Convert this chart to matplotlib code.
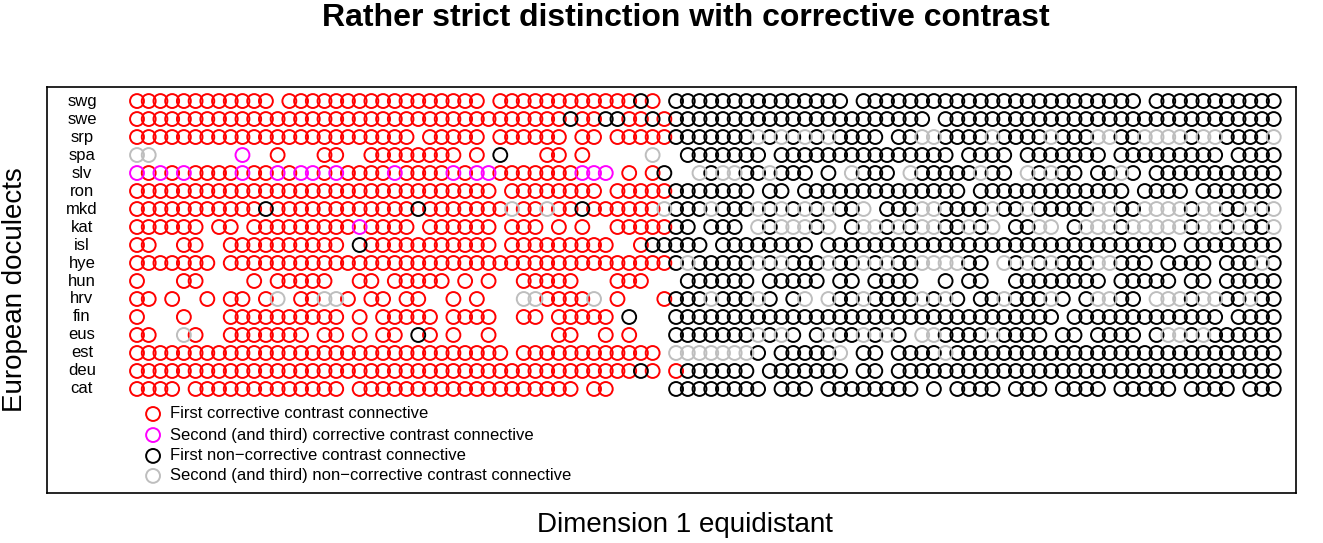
import matplotlib
matplotlib.use("Agg")
import matplotlib.pyplot as plt

plt.rcParams["font.family"] = "Liberation Sans"

doculects = ["swg", "swe", "srp", "spa", "slv", "ron", "mkd", "kat", "isl",
             "hye", "hun", "hrv", "fin", "eus", "est", "deu", "cat"]
# r: first corrective, m: second corrective, k: first non-corrective, g: second non-corrective, .: none
rows = [
    "rrrrrrrrrrrr.rrrr" "rrrrrrrrrrrrr.rr" "rrrrrrrrrrkr.kkkk" "kkkkkkkkkkk.kkkkk" "kkkkkkkkkkkkkkkk" "kkk.kkkkkkkkkkk",
    "rrrrrrrrrrrrrrrrr" "rrrrrrrrrrrrrrrr" "rrrrkrrkkrrkrkkkk" "kkkkkkkkkkkkkkkkk" "k.kkkkkkkkkkkkkk" "kkkkkkkkkkkkkkk",
    "rrrrrrrrrrrrrrrrr" "rrrrrrr.rrrrr.rr" "rrrr.rr.rrrrrkkkk" "kkkgkgkgkgkkkk.kk" "ggkkkkgkkkkgkkkg" "gkkggggkggkkkkg",
    "gg.......m..r...r" "r..rrrrrrrr.r.k." "..rr.r.....g..kkk" "kkkk.kkkkkkkkkkkk" "kkk.kkkk.kkkkkkk" ".kkkkkkkkk.kkkk",
    "mrmrmrrrrmrrmrmmr" "mrrrrmrrrrmrmmrr" "rrrrrmmm.r.rk..gk" "ggkkgkkk.k.gkkk.g" "kkkkkgkk.gkgkk.k" "kgk.kkkkkkkkkkk",
    "rrrrrrrrrrrrrrrrr" "rrrrrrrrrrrrrr.r" "rrrrrrr.rrrrrkkkk" "kkk.kk.kkkkkkkkkk" "kkkk.kkkkkkkkkkk" "kk.kkkk.kkkkkkk",
    "rrrrrrrrrrrkrrrrr" "rrrrrrrkrrrrrrrg" "rrgrrkrrrrrrgkkkg" "kkkgkgkgkgkkg.kkk" "ggkkkkgkkgkkkkkg" "gkkggggkggkkgkg",
    "rrrrrr.rr.rrrrrrr" "rrmrrrr.rrrrrr.r" "rr.r.r..rrrrrkk.k" "kk.gkgggkg.kggkgk" "ggkkgkg.kkgg.kgg" "gkgggggkggkgkkg",
    "rr..rr..rrrrrrrrr" "r.krrrrrrrrrrr.r" "rrrrrrrr..rkkkkk." "kkkkkkkk.kkkkkkkk" "kkkkkkkkkkkkkkkk" "kkkkkk.kkkkkkkk",
    "rrrrrrr.rrrrrrrrr" "rrrrrrrrrrrrrrrr" "rrrrrrrrrrrrrkgkk" "kkkgkgkkkgkkgkgkk" "ggggkk.gkgkgkkkg" "gkkk.kkkk.kkkgk",
    "r...rr....r.rrrrr" "..rr.rrrrr.r.r.." "rrrrr...rrr...kkk" "kkk.kkkkk.kk.kkkk" "..k.kk..kkkkkkkk" ".kkkkk.kk.kkkkk",
    "rr.r..r.rr.rg.rrg" "gr.rr.rr..r.r..." "ggrrrrg.r...rkkkg" "kkkgk.kg.gkkgkkkk" "gkgk.kkgkkkgk.kg" "gkk.gggkggkkgkk",
    "r...r...rrrrrrrrr" "r.r.rrrrr.rrrr.." "rr.rrrrr.k...kkkk" "kkkkkkkkkkkkkkkkk" "kkkkkkkkkkkk.kkk" "kkkkkkkkkk.kkkk",
    "rr..gr..rrrrrrr.r" "r.r.rr.kr.r..r.." "...rr..r.r...kkkk" "kkkgkgk.kgkkgkgk." "ggkkkkgkkkk.kk.k" "kkk.kggkgkkkkkk",
    "rrrrrrrrrrrrrrrrr" "rrrrrrrrrrrrrrr." "rrrrrrrrrrrr.gggg" "gggk.kkkkkg.kk.kk" "kkgkkkkkkkkkkkkk" "kkkkkkkkkkkkkkk",
    "rrrrrrrrrrrrrrrrr" "rrrrrrrrrrrrrrrr" "rrrrrrrrrrkr.rkkk" "kkk.kkkkkkk.kk.kk" "kkkkkkkkkkkkkkkk" "kkkkkkkkkkkkkkk",
    "rrrr.rrrrrrrrrrrr" "r.rrrrrrrrrrrrrr" "rrrrr.rr.....kkkk" "kkkk.kkk.kkkkkkkk" ".k.kkkk.kkk.kkkk" ".kkkkk.kkkk.kkk",
]
legend_labels = ["First corrective contrast connective",
                 "Second (and third) corrective contrast connective",
                 "First non\u2212corrective contrast connective",
                 "Second (and third) non\u2212corrective contrast connective"]
codes = ["r", "m", "k", "g"]
colors = {"r": "#FF0000", "m": "#FF00FF", "k": "#000000", "g": "#BEBEBE"}

fig = plt.figure(figsize=(13.23, 5.43), dpi=100)
ax = fig.add_axes([47/1323, 1 - 493/543, 1249/1323, 406/543])
ncol = len(rows[0])
ax.set_xlim(-7.68, ncol - 1 + 1.9)
ax.set_ylim(21.78, -0.78)

for ri, row in enumerate(rows):
    for code in codes:
        xs = [ci for ci, ch in enumerate(row) if ch == code]
        if xs:
            ax.scatter(xs, [ri] * len(xs), s=100, facecolors="none",
                       edgecolors=colors[code], linewidths=1.4)
    ax.text(-4.7, ri, doculects[ri], ha="center", va="center", fontsize=12)

leg_y = [17.39, 18.56, 19.72, 20.83]
for code, lab, y in zip(codes, legend_labels, leg_y):
    ax.scatter([1.37], [y], s=100, facecolors="none", edgecolors=colors[code], linewidths=1.4)
    ax.text(2.8, y, lab, ha="left", va="center", fontsize=12)

ax.set_xticks([])
ax.set_yticks([])
for sp in ax.spines.values():
    sp.set_linewidth(1.2)

fig.text(0.518, 1 - 18/543, "Rather strict distinction with corrective contrast",
         ha="center", va="center", fontsize=23, fontweight="bold")
fig.text(0.518, 1 - 525/543, "Dimension 1 equidistant", ha="center", va="center", fontsize=20)
fig.text(15/1323, 1 - 290/543, "European doculects", ha="center", va="center",
         rotation=90, fontsize=20)

fig.savefig("out.png", dpi=100)
